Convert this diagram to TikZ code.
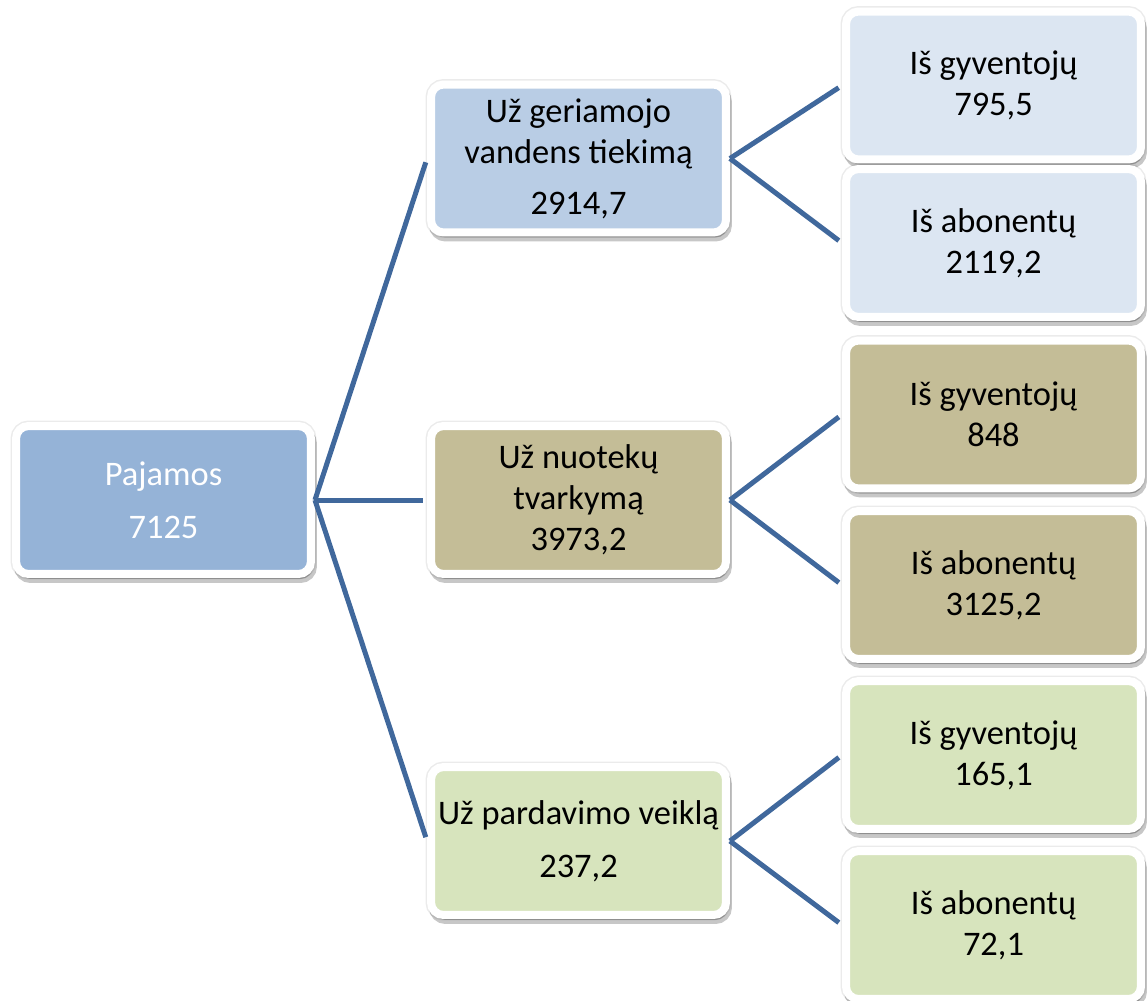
\documentclass[tikz,border=0pt]{standalone}
\usepackage{fontspec}
\setmainfont{Carlito}
\usetikzlibrary{shadows}
\definecolor{linija}{RGB}{64,104,156}
\definecolor{pajc}{HTML}{95B3D7}
\definecolor{vandc}{HTML}{B9CDE5}
\definecolor{vandc2}{HTML}{DCE6F2}
\definecolor{nuotc}{HTML}{C4BD97}
\definecolor{pardc}{HTML}{D7E4BD}
\begin{document}
\begin{tikzpicture} [x=0.02cm,y=-0.02cm,mybox/.style={rectangle, rounded corners=0.25cm, draw=white, line width=0.16cm, minimum width=5.9cm, minimum height=2.96cm, inner sep=0pt, align=center, font=\fontsize{19.6}{23.4}\selectfont, general shadow={fill=black, draw=black, line width=0.22cm, opacity=0.08}, drop shadow={fill=black, draw=black, line width=0.16cm, opacity=0.22, shadow xshift=0.04cm, shadow yshift=-0.1cm}},myl/.style={draw=linija, line width=0.1cm, shorten >=0.08cm}]
  \useasboundingbox (0,0) rectangle (1147,1001);

  \node[mybox, fill=pajc, text=white] (paj) at (163.5,500) {Pajamos\\[7pt]7125};

  \node[mybox, fill=vandc] (vand) at (578.5,158.5) {Už geriamojo\\vandens tiekimą\\[5.5pt]2914,7};
  \node[mybox, fill=nuotc] (nuot) at (578.5,500) {Už nuotekų\\tvarkymą\\3973,2};
  \node[mybox, fill=pardc] (pard) at (578.5,841) {Už pardavimo veiklą\\[7pt]237,2};

  \node[mybox, fill=vandc2] (gyv1) at (993.5,85.5) {Iš gyventojų\\795,5};
  \node[mybox, fill=vandc2] (abo1) at (993.5,243) {Iš abonentų\\2119,2};
  \node[mybox, fill=nuotc] (gyv2) at (993.5,414.5) {Iš gyventojų\\848};
  \node[mybox, fill=nuotc] (abo2) at (993.5,585) {Iš abonentų\\3125,2};
  \node[mybox, fill=pardc] (gyv3) at (993.5,755) {Iš gyventojų\\165,1};
  \node[mybox, fill=pardc] (abo3) at (993.5,925) {Iš abonentų\\72,1};

    \draw[myl] (paj.east) -- (vand.west);
    \draw[myl] (paj.east) -- (nuot.west);
    \draw[myl] (paj.east) -- (pard.west);
    \draw[myl] (vand.east) -- (gyv1.west);
    \draw[myl] (vand.east) -- (abo1.west);
    \draw[myl] (nuot.east) -- (gyv2.west);
    \draw[myl] (nuot.east) -- (abo2.west);
    \draw[myl] (pard.east) -- (gyv3.west);
    \draw[myl] (pard.east) -- (abo3.west);

\end{tikzpicture}
\end{document}
